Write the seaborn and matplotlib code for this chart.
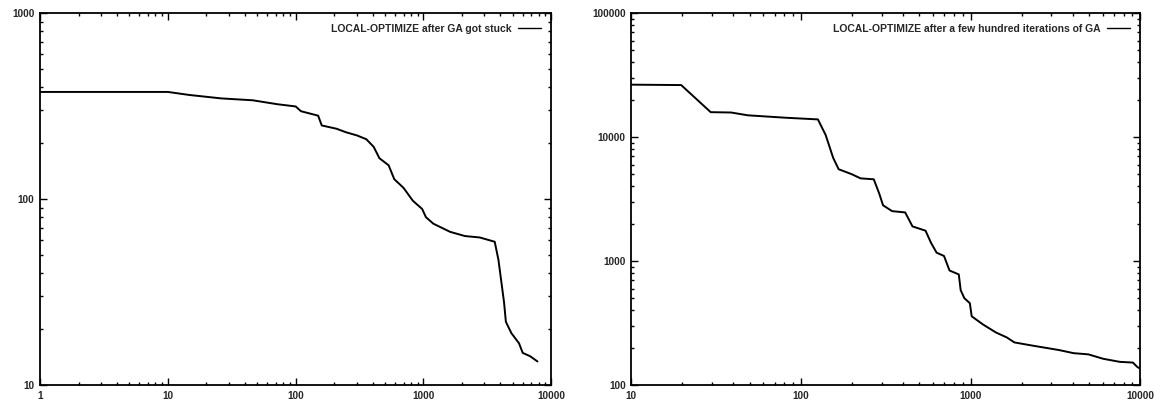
import numpy as np
import pandas as pd
import matplotlib
matplotlib.use("Agg")
import matplotlib.pyplot as plt
import seaborn as sns

# ==========================
# Data
# ==========================

stuck_iter = [1, 10, 14.8, 26.2, 46.2, 71.5, 100, 110, 150, 160, 209, 247, 302,
              357, 408, 452, 534, 591, 698, 826, 977, 1045, 1194, 1616, 2113,
              2760, 3610, 3860, 4270, 4414, 4880, 5590, 5980, 6830, 7800]
stuck_cost = [377, 377, 363, 348, 340, 324, 315, 297, 281, 249, 239, 229, 220,
              210, 191, 166, 152, 128, 115, 98, 88.5, 80, 73.8, 66.7, 63.3,
              62.2, 59, 47.2, 27.9, 21.9, 19.0, 16.8, 14.9, 14.3, 13.4]

early_iter = [10, 19.7, 29.4, 38.8, 48.6, 80.5, 126, 140, 155, 167, 199, 225,
              269, 290, 305, 345, 412, 455, 543, 585, 631, 698, 752, 853, 875,
              920, 991, 1016, 1182, 1410, 1640, 1813, 2330, 3310, 4050, 4950,
              6060, 7590, 9060, 9620, 10000]
early_cost = [26500, 26300, 15900, 15800, 15000, 14350, 13900, 10400, 6810,
              5510, 5030, 4650, 4570, 3490, 2820, 2530, 2470, 1905, 1760, 1405,
              1170, 1100, 840, 781, 583, 502, 458, 359, 309, 266, 242, 221, 208,
              192, 181, 177, 163, 154, 152, 140, 136]

left_label = "LOCAL-OPTIMIZE after GA got stuck"
right_label = "LOCAL-OPTIMIZE after a few hundred iterations of GA"

# ==========================
# Plot
# ==========================

sns.set_style("ticks")
plt.rcParams["font.family"] = ["Liberation Sans", "DejaVu Sans"]
plt.rcParams["font.weight"] = "bold"

fig = plt.figure(figsize=(11.54, 4.11), dpi=100)
ax1 = fig.add_axes([0.0347, 0.063, 0.443, 0.905])
ax2 = fig.add_axes([0.547, 0.063, 0.441, 0.905])

panels = [
    (ax1, stuck_iter, stuck_cost, left_label, (1, 10000), (10, 1000)),
    (ax2, early_iter, early_cost, right_label, (10, 10000), (100, 100000)),
]

for ax, xs, ys, lab, xlim, ylim in panels:
    df = pd.DataFrame({"iter": xs, "cost": ys})
    sns.lineplot(data=df, x="iter", y="cost", ax=ax, color="black",
                 linewidth=1.4, label=lab, estimator=None, sort=False)
    ax.set_xscale("log")
    ax.set_yscale("log")
    ax.set_xlim(*xlim)
    ax.set_ylim(*ylim)
    ax.set_xlabel("")
    ax.set_ylabel("")
    ax.xaxis.set_major_formatter(matplotlib.ticker.FuncFormatter(lambda v, p: f"{v:g}"))
    ax.yaxis.set_major_formatter(matplotlib.ticker.FuncFormatter(lambda v, p: f"{v:.0f}"))
    ax.yaxis.set_minor_formatter(matplotlib.ticker.NullFormatter())
    ax.xaxis.set_minor_formatter(matplotlib.ticker.NullFormatter())
    ax.tick_params(which="both", direction="in", top=True, right=True,
                   labelsize=7.2, color="black", width=1)
    ax.tick_params(which="major", length=5, pad=4)
    ax.tick_params(which="minor", length=2.5)
    for s in ax.spines.values():
        s.set_linewidth(1.3)
        s.set_color("black")
    leg = ax.legend(loc="upper right", frameon=False, markerfirst=False,
                    fontsize=7.5, handlelength=2.2, borderaxespad=0.6,
                    handletextpad=0.6)
    for line in leg.get_lines():
        line.set_linewidth(1.0)

fig.savefig("out.png", dpi=100)
